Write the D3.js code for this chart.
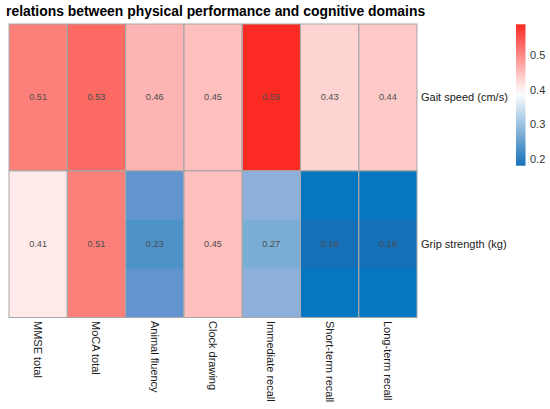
<!DOCTYPE html>
<html>
<head>
<meta charset="utf-8">
<script src="https://cdn.jsdelivr.net/npm/d3@7"></script>
<style>
  html, body { margin: 0; padding: 0; background: #fff; }
  svg { display: block; font-family: "Liberation Sans", Arial, sans-serif; }
</style>
</head>
<body>
<svg id="chart" width="550" height="409"></svg>
<script>
// ---- data ----
const domains = ["MMSE total", "MoCA total", "Animal fluency", "Clock drawing",
                 "Immediate recall", "Short-term recall", "Long-term recall"];
const measures = ["Gait speed (cm/s)", "Grip strength (kg)"];
const gaitValues = [0.51, 0.53, 0.46, 0.45, 0.59, 0.43, 0.44];
const gripValues = [0.41, 0.51, 0.23, 0.45, 0.27, 0.18, 0.18];
const legendTicks = [0.2, 0.3, 0.4, 0.5];
const titleText = "relations between physical performance and cognitive domains";

const cells = [];
domains.forEach((d, i) => {
  cells.push({domain: d, measure: measures[0], value: gaitValues[i]});
  cells.push({domain: d, measure: measures[1], value: gripValues[i]});
});

// ---- scales ----
const allVals = gaitValues.concat(gripValues);
const vMin = d3.min(allVals), vMax = d3.max(allVals);
const vMid = 0.39;

const color = d3.scaleLinear()
  .domain([vMin, vMid, vMax])
  .range(["#1670B8", "#FFFFFF", "#FB2A22"])
  .interpolate(d3.interpolateRgb);

// grip row tiles: blue half interpolated in Lab, red half as main scale
const blueLab = d3.scaleLinear()
  .domain([vMin, vMid])
  .range(["#0577C0", "#FFFFFF"])
  .interpolate(d3.interpolateLab)
  .clamp(true);
const outerColor = v => v < vMid ? blueLab(v) : color(v);

const x = d3.scaleBand().domain(domains).range([9, 417]).padding(0);
const y = d3.scaleBand().domain(measures).range([24, 317.5]).padding(0);

const svg = d3.select("#chart");

// title
svg.append("text")
  .attr("x", 6).attr("y", 16)
  .attr("font-size", 13.9).attr("font-weight", "bold").attr("fill", "#000")
  .text(titleText);

// tiles
const g = svg.append("g");
g.selectAll("rect.tile").data(cells).join("rect")
  .attr("class", "tile")
  .attr("x", d => x(d.domain))
  .attr("y", d => y(d.measure))
  .attr("width", x.bandwidth())
  .attr("height", y.bandwidth())
  .attr("fill", d => d.measure === measures[1] ? outerColor(d.value) : color(d.value));

// middle band of the grip row
g.selectAll("rect.band").data(cells.filter(d => d.measure === measures[1])).join("rect")
  .attr("class", "band")
  .attr("x", d => x(d.domain))
  .attr("y", d => y(d.measure) + y.bandwidth() / 3)
  .attr("width", x.bandwidth())
  .attr("height", y.bandwidth() / 3)
  .attr("fill", d => color(d.value));

// tile borders
g.selectAll("rect.border").data(cells).join("rect")
  .attr("class", "border")
  .attr("x", d => x(d.domain))
  .attr("y", d => y(d.measure))
  .attr("width", x.bandwidth())
  .attr("height", y.bandwidth())
  .attr("fill", "none")
  .attr("stroke", "#A8A8A8")
  .attr("stroke-width", 1);

// cell labels
g.selectAll("text.val").data(cells).join("text")
  .attr("class", "val")
  .attr("x", d => x(d.domain) + x.bandwidth() / 2)
  .attr("y", d => y(d.measure) + y.bandwidth() / 2)
  .attr("text-anchor", "middle")
  .attr("dominant-baseline", "central")
  .attr("font-size", 9.2)
  .attr("fill", "#4D4D4D")
  .text(d => d.value.toFixed(2));

// y labels (right)
svg.append("g").selectAll("text").data(measures).join("text")
  .attr("x", 421)
  .attr("y", d => y(d) + y.bandwidth() / 2)
  .attr("dominant-baseline", "central")
  .attr("font-size", 11)
  .attr("fill", "#1A1A1A")
  .text(d => d);

// x labels (rotated)
svg.append("g").selectAll("text").data(domains).join("text")
  .attr("transform", d => `translate(${x(d) + x.bandwidth() / 2},321) rotate(90)`)
  .attr("text-anchor", "start")
  .attr("dominant-baseline", "central")
  .attr("font-size", 11)
  .attr("fill", "#1A1A1A")
  .text(d => d);

// legend colour bar
const ly = d3.scaleLinear().domain([vMin, vMax]).range([165.7, 24.3]);
const defs = svg.append("defs");
const grad = defs.append("linearGradient").attr("id", "lg")
  .attr("x1", 0).attr("y1", 1).attr("x2", 0).attr("y2", 0);
d3.range(0, 1.0001, 0.05).forEach(t => {
  grad.append("stop")
    .attr("offset", t)
    .attr("stop-color", color(vMin + t * (vMax - vMin)));
});
svg.append("rect")
  .attr("x", 516).attr("y", ly(vMax))
  .attr("width", 9.5).attr("height", ly(vMin) - ly(vMax))
  .attr("fill", "url(#lg)");

svg.append("g").selectAll("text").data(legendTicks).join("text")
  .attr("x", 530)
  .attr("y", d => ly(d))
  .attr("dominant-baseline", "central")
  .attr("font-size", 11)
  .attr("fill", "#333")
  .text(d => d.toFixed(1));
</script>
</body>
</html>
